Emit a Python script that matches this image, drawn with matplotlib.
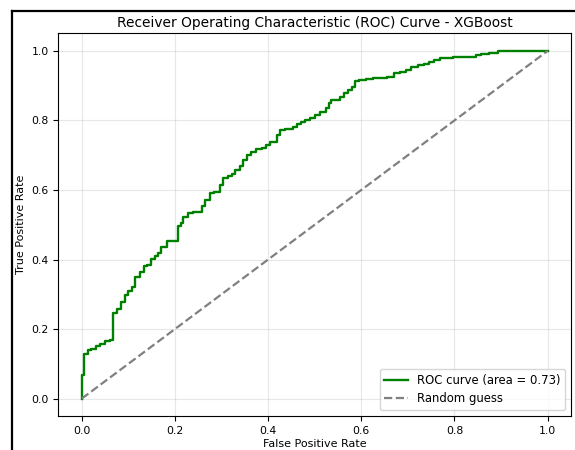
import matplotlib
matplotlib.use("Agg")
import matplotlib.pyplot as plt
from matplotlib.lines import Line2D

fpr = [0.000, 0.000, 0.004, 0.014, 0.020, 0.030, 0.040, 0.050, 0.060, 0.066,
       0.066, 0.075, 0.085, 0.093, 0.100, 0.107, 0.114, 0.125, 0.133, 0.139,
       0.148, 0.157, 0.164, 0.171, 0.182, 0.191, 0.207, 0.207, 0.212, 0.218,
       0.229, 0.239, 0.257, 0.264, 0.275, 0.284, 0.296, 0.304, 0.314, 0.322,
       0.329, 0.339, 0.346, 0.354, 0.364, 0.375, 0.386, 0.395, 0.404, 0.418,
       0.425, 0.436, 0.454, 0.462, 0.471, 0.480, 0.489, 0.500, 0.511, 0.525,
       0.530, 0.536, 0.554, 0.562, 0.571, 0.579, 0.586, 0.596, 0.611, 0.625,
       0.639, 0.655, 0.671, 0.682, 0.695, 0.707, 0.721, 0.735, 0.746, 0.757,
       0.768, 0.782, 0.796, 0.811, 0.830, 0.847, 0.857, 0.875, 0.893, 0.907,
       1.000]
tpr = [0.000, 0.023, 0.068, 0.129, 0.140, 0.143, 0.150, 0.158, 0.165, 0.169,
       0.217, 0.246, 0.258, 0.279, 0.298, 0.310, 0.322, 0.351, 0.365, 0.380,
       0.385, 0.401, 0.410, 0.418, 0.437, 0.454, 0.454, 0.487, 0.495, 0.504,
       0.523, 0.535, 0.538, 0.554, 0.571, 0.592, 0.595, 0.615, 0.634, 0.640,
       0.646, 0.656, 0.670, 0.686, 0.701, 0.710, 0.717, 0.722, 0.730, 0.739,
       0.758, 0.771, 0.775, 0.782, 0.790, 0.795, 0.800, 0.808, 0.816, 0.825,
       0.835, 0.850, 0.858, 0.868, 0.878, 0.888, 0.897, 0.912, 0.917, 0.919,
       0.921, 0.923, 0.926, 0.936, 0.940, 0.945, 0.955, 0.958, 0.962, 0.968,
       0.974, 0.979, 0.980, 0.981, 0.981, 0.982, 0.988, 0.990, 0.993, 1.000,
       1.000]
roc_auc = 0.73
diag = [0, 1]

fig = plt.figure(figsize=(5.75, 4.5), dpi=100)
ax = fig.add_axes([0.1017, 0.0756, 0.8913, 0.85])
ax.plot(fpr, tpr, color="green", lw=1.7, drawstyle="steps-pre",
        label=f"ROC curve (area = {roc_auc:.2f})")
ax.plot(diag, diag, color="gray", lw=1.6, linestyle="--", label="Random guess")
ax.set_title("Receiver Operating Characteristic (ROC) Curve - XGBoost", fontsize=9.9, pad=5)
ax.set_xlabel("False Positive Rate", fontsize=8, labelpad=2.5)
ax.set_ylabel("True Positive Rate", fontsize=8, labelpad=4)
ax.tick_params(labelsize=7.8)
ax.grid(alpha=0.3)
ax.legend(loc="lower right", fontsize=8.4)

fig.add_artist(Line2D([11.5/575, 11.5/575], [0, 1 - 10.5/450], color="black", lw=1.6,
                      transform=fig.transFigure))
fig.add_artist(Line2D([11.5/575, 1], [1 - 10.5/450, 1 - 10.5/450], color="black", lw=1.6,
                      transform=fig.transFigure))

fig.savefig("out.png", dpi=100)
